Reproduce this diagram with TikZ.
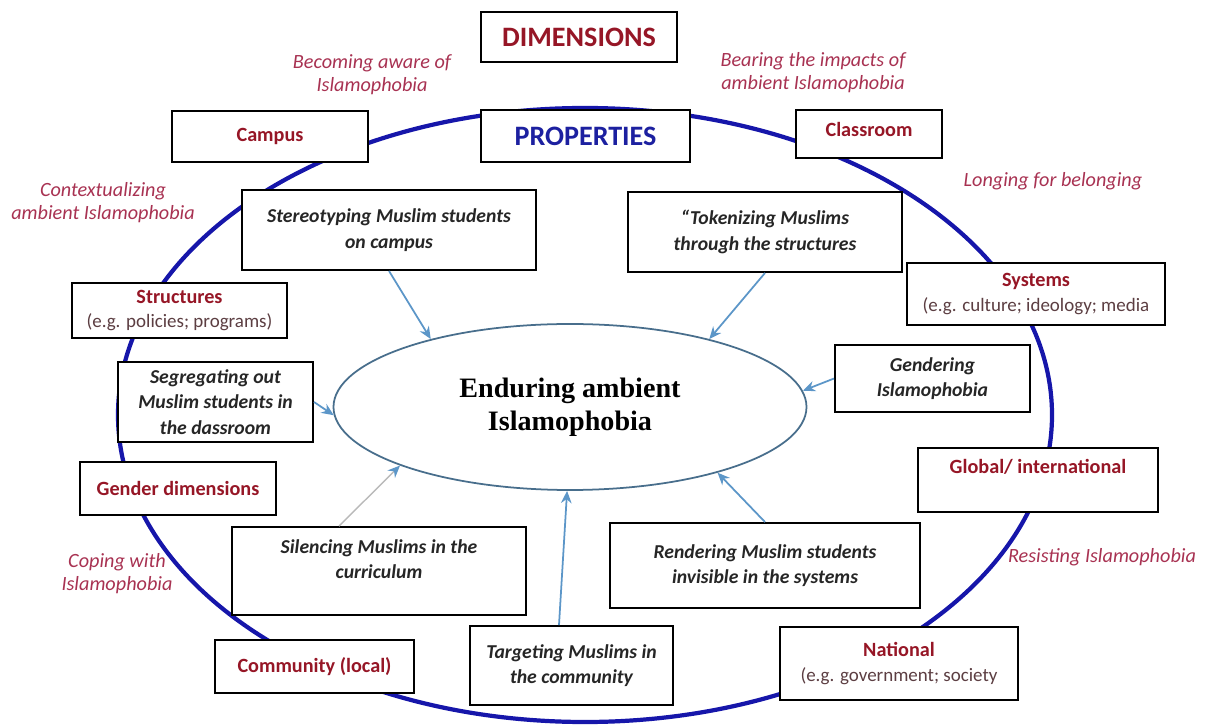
\documentclass[tikz,border=0pt]{standalone}
\usepackage{fontspec}
\setsansfont{Carlito}
\newfontfamily\coreserif{Liberation Serif}
\usetikzlibrary{arrows.meta, shapes.geometric}

\definecolor{dimred}{RGB}{150,22,38}
\definecolor{notered}{RGB}{168,50,82}
\definecolor{propblue}{RGB}{28,32,160}
\definecolor{ringblue}{RGB}{22,22,170}
\definecolor{feedblue}{RGB}{92,150,200}
\definecolor{coreline}{RGB}{72,110,140}
\definecolor{egtext}{RGB}{92,62,66}

\newcommand{\egline}[1]{{\mdseries\color{egtext}\fontsize{10.8}{13}\selectfont #1}}

\begin{document}
\begin{tikzpicture}[
                >=Stealth,
                font=\sffamily\fontsize{11.5}{14}\selectfont,
                dimbox/.style={draw, line width=1.1pt, fill=white, text=dimred, font=\sffamily\bfseries\fontsize{11.5}{14}\selectfont, align=center, inner sep=2pt},
                propbox/.style={draw, line width=1.1pt, fill=white, text=black!85, font=\sffamily\bfseries\itshape\fontsize{11.2}{14.5}\selectfont, align=center, inner sep=2pt},
                headbox/.style={draw, line width=1.1pt, fill=white, font=\sffamily\bfseries\fontsize{16}{18}\selectfont},
                note/.style={text=notered, font=\sffamily\itshape\fontsize{11.5}{13}\selectfont, align=center},
                core/.style={ellipse, draw=coreline, line width=1pt, fill=white, inner sep=0pt, align=center, font=\coreserif\bfseries\fontsize{16}{19}\selectfont},
                ring/.style={draw=ringblue, line width=2.4pt},
                feed/.style={feedblue, line width=1pt, -{Stealth[length=7pt, width=6pt]}},
                feedgray/.style={gray!55, line width=0.8pt, -{Stealth[length=7pt, width=6pt, color=feedblue]}}
            ]
                \useasboundingbox (0,0) rectangle (24.3,-14.56);
                \draw[ring] (11.7,-8.3) ellipse (9.34 and 6.14);

                \node[headbox, text=dimred, minimum width=3.92cm, minimum height=1cm] (dims) at (11.58,-0.74) {DIMENSIONS};
                \node[headbox, text=propblue, minimum width=4.18cm, minimum height=1.04cm] (props) at (11.71,-2.72) {PROPERTIES};

                \node[dimbox, minimum width=3.92cm, minimum height=1.02cm] (campus) at (5.4,-2.73) {Campus};
                \node[dimbox, minimum width=2.92cm, minimum height=0.96cm, text depth=0.2cm] (classroom) at (17.38,-2.68) {Classroom};
                \node[dimbox, minimum width=4.3cm, minimum height=1.1cm] (structures) at (3.59,-6.21) {Structures\\\egline{(e.g. policies; programs)}};
                \node[dimbox, minimum width=5.16cm, minimum height=1.24cm] (systems) at (20.72,-5.88) {Systems\\\egline{(e.g. culture; ideology; media}};
                \node[dimbox, minimum width=3.92cm, minimum height=1.06cm] (genderdim) at (3.56,-9.77) {Gender dimensions};
                \node[dimbox, minimum width=4.8cm, minimum height=1.28cm, text depth=0.55cm] (global) at (20.76,-9.6) {Global/ international};
                \node[dimbox, minimum width=3.98cm, minimum height=1.06cm] (community) at (6.29,-13.33) {Community (local)};
                \node[dimbox, minimum width=4.76cm, minimum height=1.46cm] (national) at (17.98,-13.27) {National\\\egline{(e.g. government; society}};

                \node[core, minimum width=9.46cm, minimum height=3.32cm] (core) at (11.4,-8.14) {Enduring ambient\\Islamophobia};

                \node[propbox, minimum width=5.88cm, minimum height=1.6cm] (stereo) at (7.78,-4.6) {Stereotyping Muslim students\\on campus};
                \node[propbox, minimum width=5.48cm, minimum height=1.6cm] (token) at (15.3,-4.64) {``Tokenizing Muslims\\through the structures};
                \node[propbox, minimum width=3.9cm, minimum height=1.6cm] (segregate) at (4.31,-8.04) {Segregating out\\Muslim students in\\the dassroom};
                \node[propbox, minimum width=3.9cm, minimum height=1.34cm] (gendering) at (18.65,-7.57) {Gendering\\Islamophobia};
                \node[propbox, minimum width=5.88cm, minimum height=1.76cm, text depth=0.48cm] (silence) at (7.58,-11.42) {Silencing Muslims in the\\curriculum};
                \node[propbox, minimum width=6.2cm, minimum height=1.7cm] (render) at (15.3,-11.31) {Rendering Muslim students\\invisible in the systems};
                \node[propbox, minimum width=4.06cm, minimum height=1.58cm] (target) at (11.43,-13.31) {Targeting Muslims in\\the community};

                \node[note] (aware) at (7.44,-1.5) {Becoming aware of\\Islamophobia};
                \node[note] (impacts) at (16.26,-1.46) {Bearing the impacts of\\ambient Islamophobia};
                \node[note] (context) at (2.06,-4.06) {Contextualizing\\ambient Islamophobia};
                \node[note] (longing) at (21.06,-3.62) {Longing for belonging};
                \node[note] (coping) at (2.34,-11.48) {Coping with\\Islamophobia};
                \node[note] (resisting) at (22.04,-11.14) {Resisting Islamophobia};

                \draw[feed] (stereo.south) -- (core.154);
                \draw[feed] (token.south) -- (core.26);
                \draw[feed] (segregate.east) -- (core.182);
                \draw[feed] (gendering.west) -- (core.4);
                \draw[feedgray] ([xshift=-0.8cm]silence.north) -- (core.199);
                \draw[feed] ([xshift=-0.25cm]target.north) -- (core.268);
                \draw[feed] (render.north) -- (core.336);
            \end{tikzpicture}
\end{document}
